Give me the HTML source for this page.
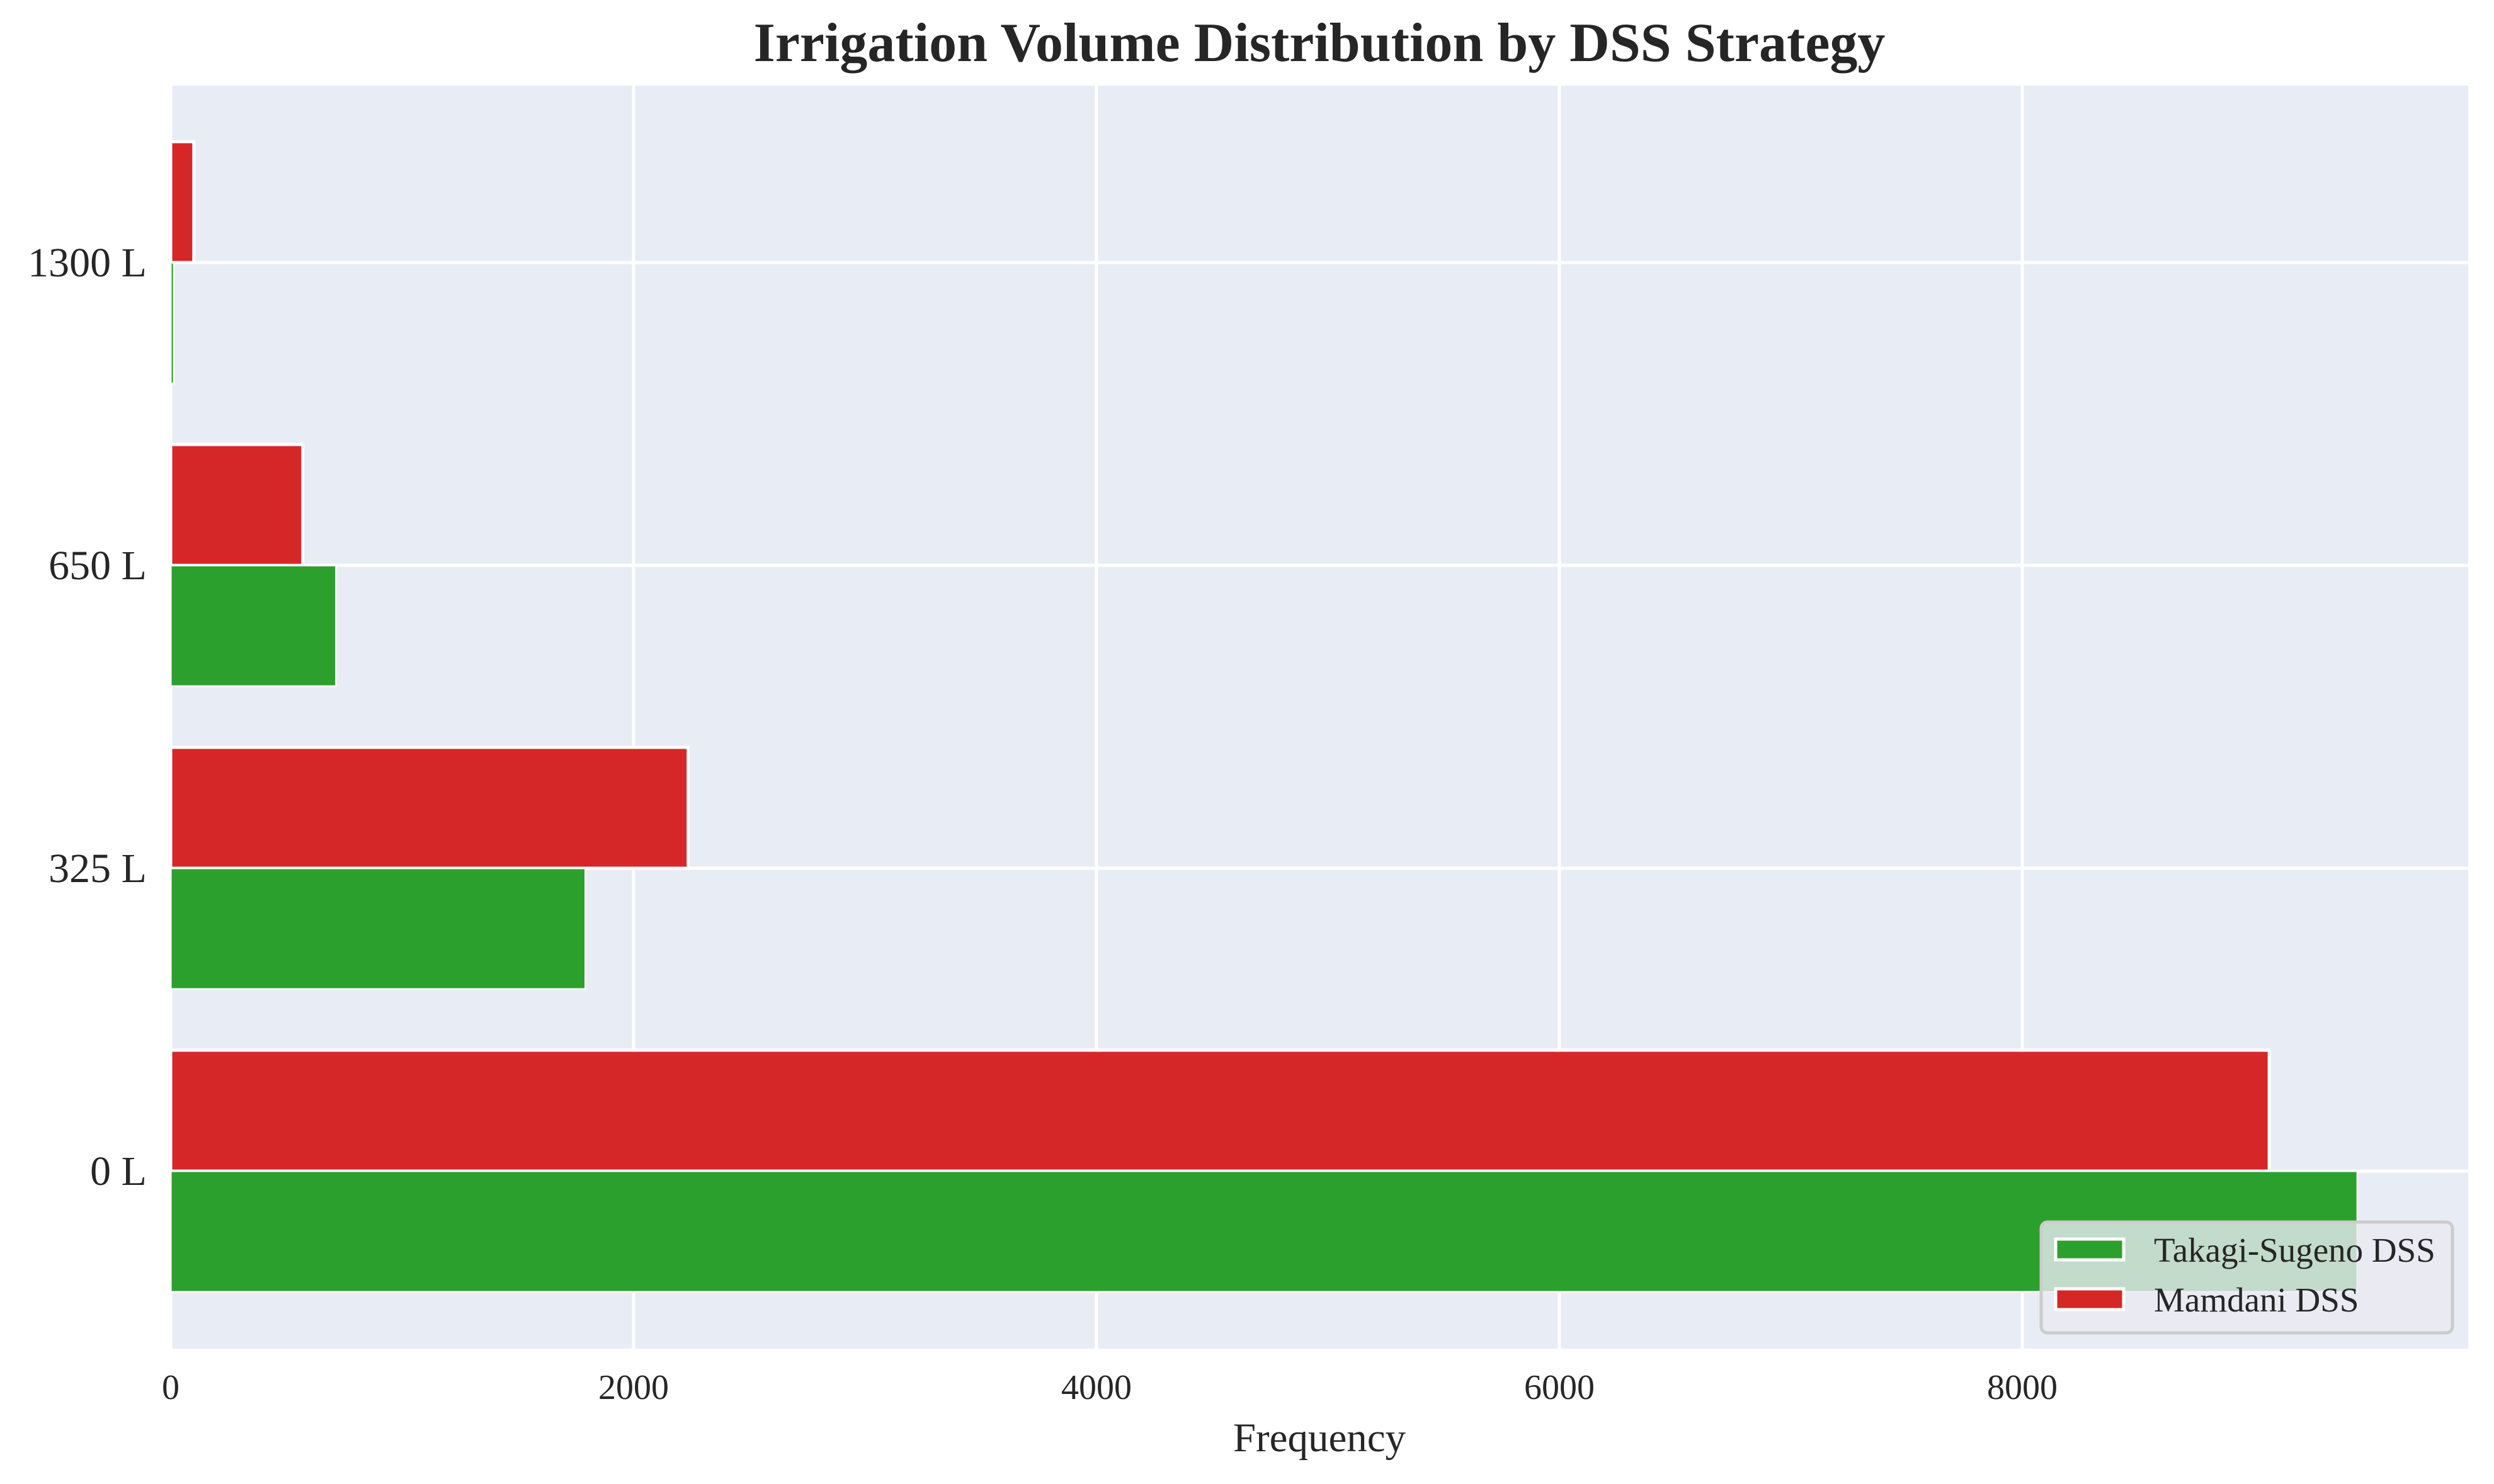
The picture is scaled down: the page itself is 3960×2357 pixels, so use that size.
<!DOCTYPE html>
<html><head><meta charset="utf-8"><style>
html,body{margin:0;padding:0;background:#fff;}
svg{display:block;font-family:"Liberation Serif","DejaVu Serif",serif;}
</style></head><body>
<svg id="chart" width="3960" height="2357" viewBox="0 0 3960 2357">
<text x="2095" y="97" text-anchor="middle" font-size="88" font-weight="bold" fill="#262626">Irrigation Volume Distribution by DSS Strategy</text>
<rect x="271" y="136" width="3648" height="2006" fill="#e8ecf5"/>
<g id="grid"></g>
<g id="bars"></g>
<g id="ticks"></g>
<text x="2095" y="2305" text-anchor="middle" font-size="65" fill="#262626">Frequency</text>
<g>
<rect x="3241" y="1941" width="653" height="176" rx="10" fill="#eaeaf2" fill-opacity="0.8" stroke="#cccccc" stroke-width="5"/>
<rect x="3264" y="1968" width="108" height="33" fill="#2ca02c" stroke="#fff" stroke-width="5"/>
<text x="3420" y="2004" font-size="55" fill="#262626">Takagi-Sugeno DSS</text>
<rect x="3264" y="2047" width="108" height="33" fill="#d62728" stroke="#fff" stroke-width="5"/>
<text x="3420" y="2083" font-size="55" fill="#262626">Mamdani DSS</text>
</g>
</svg>
<script>
const categories = ["0 L", "325 L", "650 L", "1300 L"];
const takagiValues = [9448, 1792, 715, 14];
const mamdaniValues = [9067, 2236, 571, 100];
const xTicks = [0, 2000, 4000, 6000, 8000];

const NS = "http://www.w3.org/2000/svg";
const X0 = 271, XS = 0.3675;
const xScale = v => X0 + v * XS;
const Y0 = 1860, YSTEP = 481;
const yScale = i => Y0 - i * YSTEP;
const BH = 192;
const grid = document.getElementById('grid');
const bars = document.getElementById('bars');
const ticks = document.getElementById('ticks');
function mk(tag, attrs, parent) {
  const e = document.createElementNS(NS, tag);
  for (const k in attrs) e.setAttribute(k, attrs[k]);
  parent.appendChild(e);
  return e;
}
xTicks.forEach(v => {
  const l = mk('line', {x1: xScale(v), x2: xScale(v), y1: 136, y2: 2142, stroke: '#fff', 'stroke-width': 5}, grid);
  
  
  const t = mk('text', {x: xScale(v), y: 2222, 'text-anchor': 'middle', 'font-size': 56, fill: '#262626'}, ticks);
  t.textContent = v;
  
  
});
categories.forEach((c, i) => {
  const y = yScale(i);
  const l = mk('line', {x1: 271, x2: 3919, y1: y, y2: y, stroke: '#fff', 'stroke-width': 5}, grid);
  
  
  const t = mk('text', {x: 233, y: y + 22, 'text-anchor': 'end', 'font-size': 66, fill: '#262626'}, ticks);
  t.textContent = c;
  
  
  const r = mk('rect', {x: X0, y: y - BH, width: Math.max(mamdaniValues[i] * XS, 0), height: BH, fill: '#d62728', stroke: '#fff', 'stroke-width': 5}, bars);
  
  
  const g = mk('rect', {x: X0, y: y, width: Math.max(takagiValues[i] * XS, 0), height: BH, fill: '#2ca02c', stroke: '#fff', 'stroke-width': 3}, bars);
  
  
});
</script>
</body></html>
